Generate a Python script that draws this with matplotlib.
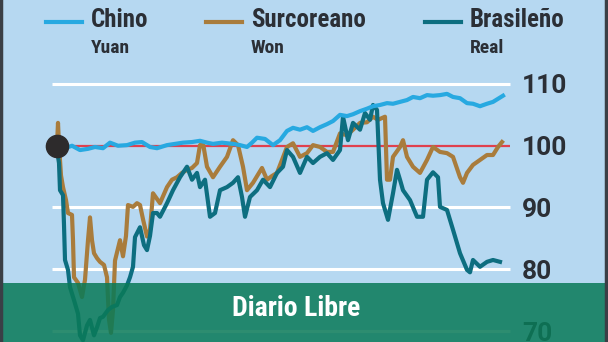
import matplotlib.pyplot as plt
from matplotlib.lines import Line2D
from matplotlib.patches import Rectangle

# dias desde el inicio (eje x)
dias_yuan = [0, 8, 15, 23, 31, 38, 46, 53, 61, 70, 78, 85, 93, 100, 110, 118, 126, 135, 143,
             150, 156, 165, 176, 183, 190, 195, 200, 208, 216, 223, 230, 236, 243, 250, 256,
             263, 270, 276, 283, 290, 296, 303, 310, 316, 323, 330, 336, 343, 350, 356, 363,
             370, 376, 383, 390, 396, 403, 410, 416, 423, 430, 436, 441, 446]
yuan = [100.1, 99.6, 100.0, 99.3, 99.5, 99.8, 99.6, 100.5, 100.0, 100.1, 100.5, 100.6, 99.8,
        99.6, 100.1, 100.3, 100.5, 100.6, 100.8, 100.5, 100.3, 100.5, 100.3, 100.1, 99.8,
        100.5, 101.3, 101.1, 100.1, 100.9, 102.4, 102.9, 102.6, 103.0, 102.4, 103.0, 103.5,
        104.0, 105.0, 104.8, 105.1, 105.6, 106.0, 106.4, 106.6, 106.9, 106.8, 107.1, 107.4,
        107.9, 107.7, 108.2, 108.1, 108.2, 108.4, 107.9, 107.7, 106.9, 106.8, 106.4, 106.8,
        107.1, 107.6, 108.1]

dias_won = [0, 1, 2, 4, 6, 9, 11, 15, 16, 17, 21, 25, 28, 31, 33, 35, 37, 40, 43, 47, 50, 52,
            54, 56, 58, 63, 66, 69, 71, 76, 80, 83, 86, 90, 93, 96, 103, 110, 115, 120, 125,
            130, 135, 140, 143, 146, 150, 156, 163, 170, 176, 181, 186, 190, 196, 205, 210,
            215, 220, 225, 230, 236, 243, 250, 256, 263, 270, 276, 283, 290, 296, 303, 310,
            316, 321, 328, 330, 333, 336, 343, 346, 350, 356, 363, 370, 376, 383, 390, 396,
            403, 406, 410, 416, 423, 430, 436, 441, 445]
won = [100.1, 103.7, 100.1, 95.2, 93.3, 91.2, 89.1, 88.8, 84.7, 78.7, 77.8, 75.5, 78.3, 84.7,
       88.4, 84.7, 82.6, 81.8, 81.2, 80.7, 78.7, 71.8, 69.7, 73.4, 81.4, 84.7, 82.1, 85.4,
       90.4, 90.1, 90.7, 90.4, 88.1, 85.3, 86.4, 92.3, 90.7, 93.3, 94.5, 94.9, 95.6, 96.1,
       96.4, 97.2, 100.1, 100.4, 96.6, 94.9, 96.6, 98.2, 100.9, 100.1, 96.6, 92.8, 94.0,
       96.4, 94.5, 95.1, 95.6, 97.7, 99.8, 100.4, 98.2, 98.8, 100.1, 99.8, 99.0, 99.0,
       102.0, 101.7, 102.6, 103.7, 103.8, 104.7, 104.2, 104.7, 94.5, 94.5, 98.2, 99.8,
       100.9, 98.2, 96.6, 95.6, 97.7, 99.8, 99.0, 98.8, 98.2, 94.9, 94.0, 95.6, 96.9, 97.7,
       98.5, 98.5, 99.8, 100.6]

dias_real = [0, 2, 3, 6, 7, 8, 11, 13, 17, 21, 23, 26, 30, 33, 37, 40, 43, 46, 51, 55, 60, 63,
             66, 70, 73, 76, 78, 83, 87, 90, 93, 96, 100, 103, 110, 116, 123, 130, 135, 140,
             143, 148, 153, 158, 163, 170, 176, 181, 185, 188, 193, 200, 206, 213, 220, 226,
             230, 236, 243, 250, 256, 263, 270, 276, 283, 286, 291, 296, 303, 308, 313, 316,
             320, 323, 326, 331, 336, 340, 343, 346, 353, 360, 366, 370, 376, 381, 383, 390,
             396, 403, 410, 413, 416, 423, 430, 436, 443]
real = [99.3, 97.2, 92.8, 92.0, 87.2, 81.5, 79.9, 77.1, 75.0, 72.8, 69.3, 68.5, 70.9, 71.8,
        69.3, 70.6, 72.1, 72.3, 73.4, 73.9, 74.2, 75.5, 76.2, 77.4, 78.7, 80.4, 85.2, 86.8,
        83.9, 83.1, 85.4, 89.1, 89.1, 88.5, 90.7, 92.8, 94.9, 96.6, 94.5, 95.6, 93.3, 94.5,
        88.5, 89.1, 92.8, 93.3, 94.0, 94.9, 91.7, 88.5, 91.7, 92.8, 94.5, 93.3, 95.6, 96.6,
        99.3, 98.2, 95.6, 98.2, 97.2, 98.2, 98.8, 97.7, 99.3, 104.7, 100.9, 103.7, 102.6,
        105.3, 104.2, 106.6, 105.8, 94.5, 90.7, 88.0, 92.3, 96.1, 94.5, 92.8, 91.2, 88.5,
        88.5, 94.5, 95.7, 94.9, 90.1, 89.6, 86.4, 82.6, 79.9, 79.5, 81.5, 80.4, 81.2, 81.5,
        81.2]

niveles = [70, 80, 90, 110]
etiquetas = ['70', '80', '90', '100', '110']

c_yuan = '#27a9e1'
c_won = '#a97c3c'
c_real = '#0d6e80'
fondo = '#b6d8f1'
texto = '#2b2f36'
fuente = ['Roboto Condensed', 'Roboto', 'DejaVu Sans']

fig = plt.figure(figsize=(6.08, 3.42), dpi=100, facecolor=fondo)
ax = fig.add_axes([0, 0, 1, 1])
ax.set_facecolor(fondo)
ax.set_xlim(-57, 551)
ax.set_ylim(68.22, 123.6)
for s in ax.spines.values():
    s.set_visible(False)
ax.set_xticks([])

ax.hlines(niveles, -5, 453, color='white', lw=2.2, zorder=1)
ax.hlines(100, 0, 453, color='#e0404e', lw=1.6, zorder=2)

ax.plot(dias_won, won, color=c_won, lw=3, solid_joinstyle='round', zorder=3)
ax.plot(dias_real, real, color=c_real, lw=3, solid_joinstyle='round', zorder=4)
ax.plot(dias_yuan, yuan, color=c_yuan, lw=3, solid_joinstyle='round', zorder=5)
ax.plot([0], [100], 'o', ms=16, color='#2d2b2c', zorder=6)

ax.yaxis.tick_right()
ax.set_yticks([70, 80, 90, 100, 110])
ax.set_yticklabels(etiquetas)
ax.tick_params(axis='y', length=0, pad=-62, labelsize=19, labelcolor=texto)
for lab in ax.get_yticklabels():
    lab.set_fontfamily('Roboto')
    lab.set_fontweight('bold')
    lab.set_horizontalalignment('left')

# franja verde inferior con la marca (encima del eje, tapa tambien el 70)
fig.add_artist(Rectangle((0, 0), 1, 59 / 342, transform=fig.transFigure,
                         facecolor='#0a7a58', alpha=0.86, lw=0, zorder=5))
fig.text(296 / 608, 1 - 308 / 342, 'Diario Libre', ha='center', va='center',
         color='white', fontsize=20, fontweight='bold', family=fuente, zorder=6)

# bordes laterales
fig.add_artist(Line2D([0.002, 0.002], [0, 1], color='#3a3f46', lw=2.5, zorder=7))
fig.add_artist(Line2D([0.996, 0.996], [0, 1], color='#3a3f46', lw=2.5, zorder=7))

# leyenda
leyenda = [('Chino', 'Yuan', c_yuan, 46), ('Surcoreano', 'Won', c_won, 206),
           ('Brasileño', 'Real', c_real, 425)]
for nombre, moneda, col, x0 in leyenda:
    fig.add_artist(Line2D([x0 / 608, (x0 + 36) / 608], [1 - 22 / 342, 1 - 22 / 342],
                          color=col, lw=3))
    fig.text((x0 + 45) / 608, 1 - 20 / 342, nombre, ha='left', va='center', color=texto,
             fontsize=18, fontweight='bold', family=fuente)
    fig.text((x0 + 45) / 608, 1 - 48 / 342, moneda, ha='left', va='center', color=texto,
             fontsize=14, fontweight='bold', family=fuente)

fig.savefig('out.png', dpi=100, facecolor=fondo)
